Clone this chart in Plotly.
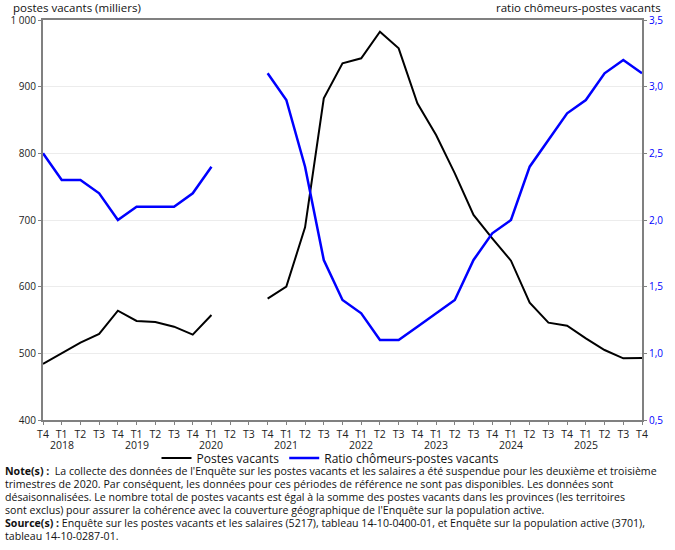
import plotly.graph_objects as go

quarters = ["T4"] + ["T1", "T2", "T3", "T4"] * 8
years = [2017] + [y for y in range(2018, 2026) for _ in range(4)]
categories = [f"{q} {y}" for q, y in zip(quarters, years)]

postes_vacants = [484, 500, 516, 529, 564, 548.5, 547, 540, 528, 557.5, None, None,
                  582, 600, 689, 882.5, 935, 942.5, 982.5, 957.5, 875, 827.5, 770,
                  707.5, 672.5, 639, 576, 546, 541.5, 522.5, 505, 492.5, 493]
ratio = [2.5, 2.3, 2.3, 2.2, 2.0, 2.1, 2.1, 2.1, 2.2, 2.4, None, None,
         3.1, 2.9, 2.4, 1.7, 1.4, 1.3, 1.1, 1.1, 1.2, 1.3, 1.4,
         1.7, 1.9, 2.0, 2.4, 2.6, 2.8, 2.9, 3.1, 3.2, 3.1]

left_title = "postes vacants (milliers)"
right_title = "ratio chômeurs-postes vacants"
notes = [
    "<b>Note(s) :</b>  La collecte des données de l'Enquête sur les postes vacants et les salaires a été suspendue pour les deuxième et troisième",
    "trimestres de 2020. Par conséquent, les données pour ces périodes de référence ne sont pas disponibles. Les données sont",
    "désaisonnalisées. Le nombre total de postes vacants est égal à la somme des postes vacants dans les provinces (les territoires",
    "sont exclus) pour assurer la cohérence avec la couverture géographique de l'Enquête sur la population active.",
    "<b>Source(s) :</b> Enquête sur les postes vacants et les salaires (5217), tableau 14-10-0400-01, et Enquête sur la population active (3701),",
    "tableau 14-10-0287-01.",
]

x = list(range(len(categories)))

FONT = "Open Sans"
fig = go.Figure()
fig.add_trace(go.Scatter(x=x, y=postes_vacants, mode="lines", name="Postes vacants",
                         line=dict(color="black", width=2), connectgaps=False,
                         hovertext=categories))
fig.add_trace(go.Scatter(x=x, y=ratio, mode="lines", name="Ratio chômeurs-postes vacants",
                         line=dict(color="#0000ff", width=2.5), connectgaps=False,
                         yaxis="y2", hovertext=categories))

L, R, T, B = 43, 33, 20, 130
W, H = 675, 550
pw, ph = W - L - R, H - T - B

axis_common = dict(showline=True, linecolor="#808080", linewidth=2,
                   ticks="outside", ticklen=3, tickcolor="#808080", zeroline=False)

fig.update_layout(
    width=W, height=H,
    margin=dict(l=L, r=R, t=T, b=B),
    paper_bgcolor="white", plot_bgcolor="white",
    separators=", ",
    font=dict(family=FONT, size=11, color="#222"),
    xaxis=dict(range=[0, len(categories) - 1], tickvals=x, ticktext=quarters,
               tickangle=0, showgrid=False, mirror=True,
               tickfont=dict(size=10.5, color="#222"), **axis_common),
    yaxis=dict(range=[400, 1000], dtick=100, tickformat=",d", showgrid=True,
               gridcolor="#ececec", gridwidth=1, tickfont=dict(size=10, color="#222"),
               **axis_common),
    yaxis2=dict(range=[0.5, 3.5], dtick=0.5, tickformat=".1f", overlaying="y",
                side="right", showgrid=False, tickfont=dict(size=10, color="#0000ff"),
                **axis_common),
    legend=dict(orientation="h", x=0.5 - 12 / pw, xanchor="center", y=(420 - 458) / ph,
                yanchor="middle", font=dict(size=12, color="#111"),
                bgcolor="rgba(0,0,0,0)", itemwidth=30, tracegroupgap=0),
    showlegend=True,
)

annotations = [
    dict(text=left_title, xref="paper", yref="paper", x=(12 - L) / pw, xanchor="left",
         y=1 + (T - 8) / ph, yanchor="middle", showarrow=False, borderpad=0,
         font=dict(size=11.5, color="#111")),
    dict(text=right_title, xref="paper", yref="paper", x=(662 - L) / pw, xanchor="right",
         y=1 + (T - 8) / ph, yanchor="middle", showarrow=False, borderpad=0,
         font=dict(size=11.5, color="#111")),
]
# year labels under each T1 tick
for xi, q, yr in zip(x, quarters, years):
    if q == "T1":
        annotations.append(dict(text=str(yr), xref="x", yref="paper", x=xi,
                                xanchor="center", y=(420 - 445) / ph, yanchor="middle",
                                showarrow=False, borderpad=0,
                                font=dict(size=10.5, color="#222")))
for i, line in enumerate(notes):
    yc = 471.5 + i * 12.8
    annotations.append(dict(text=line, xref="paper", yref="paper", x=(4 - L) / pw,
                            xanchor="left", y=(T + ph - yc) / ph, yanchor="middle",
                            showarrow=False, align="left", borderpad=0,
                            font=dict(size=10.6, color="#111")))
fig.update_layout(annotations=annotations)

fig.write_html("out.html")
